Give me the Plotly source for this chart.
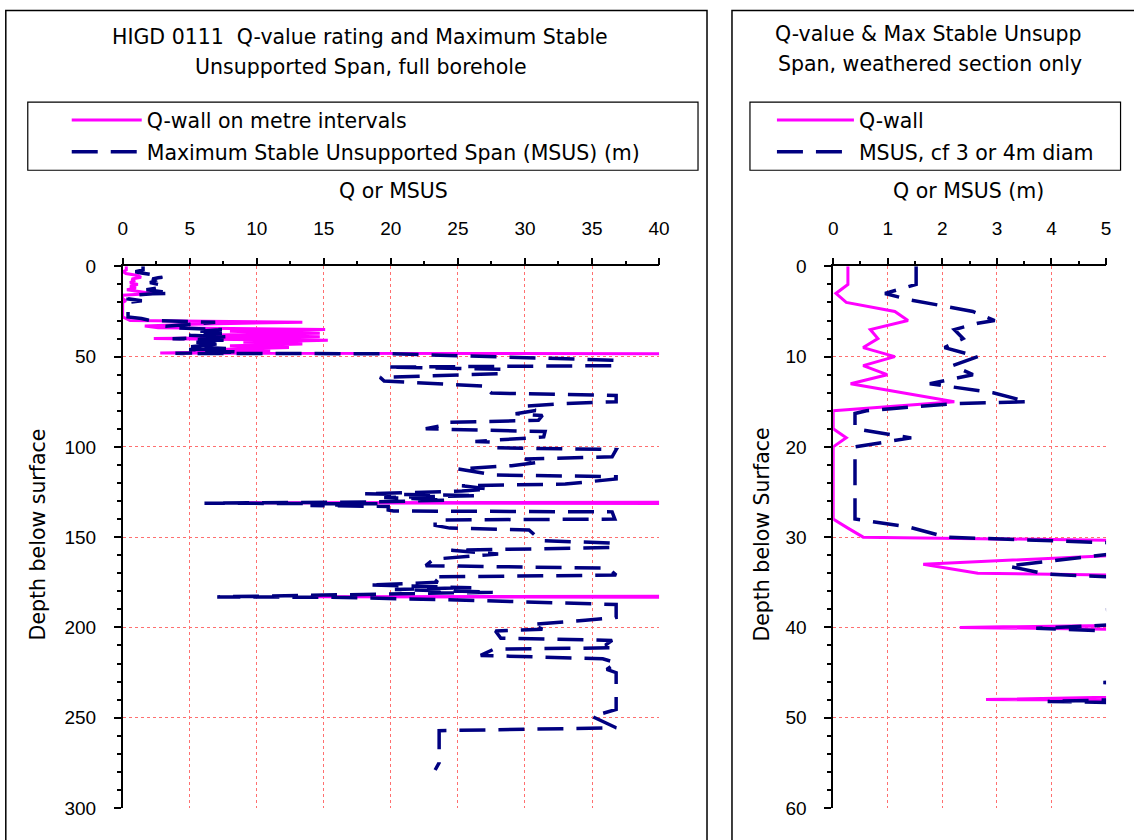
import plotly.graph_objects as go

W, H = 1134, 840

# ---------------- data ----------------
# Q-wall (metre intervals); values beyond the plotted range are off-chart (> 40)
q_depth = [0, 1, 2, 3, 4, 5, 6, 7, 8, 9, 10, 11, 12, 13, 14, 15, 16, 17, 18, 19,
           20, 21, 22, 23, 24, 25, 26, 27, 28, 29, 30, 31, 32, 33, 34, 35, 36, 37,
           38, 39, 40, 41, 42, 43, 44, 45, 46, 47, 48, 49, 130, 131, 132, 182, 183,
           184, 279]
q_wall = [0.27, 0.27, 0.27, 0.05, 0.24, 1.13, 1.37, 0.68, 0.82, 0.55, 1.13, 0.55,
          0.99, 0.32, 1.3, 2.22, 0.0, 0.0, 0.0, 0.24, 0.0, 0.0, 0.0, 0.0, 0.0, 0.0,
          0.0, 0.0, 0.0, 0.27, 0.55, 13.4, 5.2, 1.65, 2.65, 15.1, 8.0, 14.7, 7.0,
          14.7, 2.32, 15.3, 9.0, 13.4, 8.0, 12.4, 7.0, 11.0, 2.8, 100, 100, 9.0,
          100, 100, 14.0, 100, 100]

# Maximum Stable Unsupported Span (m)
msus_depth = [0, 2, 3, 3.7, 5, 6, 6.3, 7, 8, 9, 10, 11, 12, 13, 14, 15, 15.2, 16,
              16.3, 18, 19, 20, 28, 28.9, 30, 31, 31.8, 33.2, 34.1, 35, 36, 37, 38.1,
              39, 40.1, 41, 42, 43, 44.5, 45.5, 46.1, 47.5, 48.2, 48.4, 52, 55, 55.8,
              57, 59.5, 61.5, 63.5, 66.5, 68.7, 70.2, 71.5, 75, 76, 77.5, 79.8, 81.7,
              82.6, 85.3, 86.4, 88.5, 90, 91.5, 94.5, 96.2, 97, 97.5, 100.5, 101.5,
              105.5, 106.7, 108.5, 110.4, 112.2, 115.6, 116.5, 117.8, 120.6, 121.5,
              123.3, 124.5, 126, 127, 128, 129.5, 130.5, 131.2, 131.5, 132.5, 133.3,
              133.0, 135, 135.5, 136, 140, 140.5, 143.5, 145, 146, 152, 153.3, 155.7,
              157.3, 159.3, 162.2, 165.8, 167.2, 171, 172, 175, 176.5, 178, 179,
              180.5, 182, 183.1, 183.3, 184.6, 187.3, 194.5, 196, 198.3, 201, 202,
              206, 207.2, 209.8, 211.3, 212, 215.5, 217.4, 219.6, 223.3, 225.1,
              245.5, 249.3, 255.6, 257.2, 275, 279]
msus = [1.52, 1.52, 0.95, 1.40, 2.56, 2.96, 2.65, 2.22, 2.38, 2.04, 2.65, 2.19,
        2.56, 1.77, 2.93, 3.56, 2.22, 0.61, 0.40, 0.40, 1.43, 0.40, 0.40, 1.40,
        2.07, 6.9, 5.2, 3.2, 3.9, 7.4, 5.8, 7.4, 4.95, 7.7, 3.72, 7.7, 5.5, 7.0,
        5.1, 7.7, 4.95, 8.7, 3.93, 20.0, 36.8, 36.8, 19.7, 28.5, 28.0, 19.2, 19.5,
        27.3, 27.3, 27.5, 36.8, 36.8, 33.0, 30.0, 30.8, 29.3, 31.3, 31.0, 24.0,
        23.6, 22.6, 31.5, 31.4, 27.5, 26.3, 27.8, 27.8, 36.8, 36.5, 30.0, 31.1,
        29.0, 25.0, 27.7, 36.8, 36.8, 33.0, 25.3, 27.3, 25.3, 18.0, 26.5, 19.5,
        24.2, 18.8, 6.1, 19.0, 14.0, 18.8, 19.8, 19.8, 20.2, 36.5, 36.7, 23.3,
        23.3, 24.4, 30.3, 31.2, 36.7, 36.5, 24.5, 28.0, 23.2, 22.6, 36.2, 36.8,
        23.0, 23.5, 18.3, 26.0, 20.3, 27.6, 15.0, 7.05, 15.5, 23.8, 36.8, 36.8,
        34.5, 30.5, 31.3, 27.8, 28.2, 36.5, 36.0, 36.7, 27.7, 26.7, 35.8, 36.8,
        36.1, 36.8, 36.8, 35.0, 36.8, 23.6, 23.6, 23.3]

left_x_ticks = [0, 5, 10, 15, 20, 25, 30, 35, 40]
left_y_ticks = [0, 50, 100, 150, 200, 250, 300]
right_x_ticks = [0, 1, 2, 3, 4, 5]
right_y_ticks = [0, 10, 20, 30, 40, 50, 60]

# ---------------- styling ----------------
FONT = "DejaVu Sans"
TICKFONT = "Liberation Sans, Arial"
MAGENTA = "#FF00FF"
NAVY = "#000080"
GRID = "#FF7070"
DASH = "26px,13px"

# measured capture mapping (screen = scale * page + offset)
OFFX, SCX = 4.2, 0.987
OFFY, SCY = 10.9, 0.974


def px_x(s):
    return ((s - OFFX) / SCX) / W


def px_y(s):
    return 1 - ((s - OFFY) / SCY) / H


fig = go.Figure()

fig.add_trace(go.Scatter(x=q_wall, y=q_depth, xaxis="x", yaxis="y", mode="lines",
                         line=dict(color=MAGENTA, width=3), legendgroup="q1",
                         name="Q-wall on metre intervals", legend="legend"))
fig.add_trace(go.Scatter(x=msus, y=msus_depth, xaxis="x", yaxis="y", mode="lines",
                         line=dict(color=NAVY, width=3.5, dash=DASH), legendgroup="m1",
                         name="Maximum Stable Unsupported Span (MSUS) (m)", legend="legend"))
fig.add_trace(go.Scatter(x=q_wall, y=q_depth, xaxis="x2", yaxis="y2", mode="lines",
                         line=dict(color=MAGENTA, width=3), legendgroup="q2",
                         name="Q-wall", legend="legend2"))
fig.add_trace(go.Scatter(x=msus, y=msus_depth, xaxis="x2", yaxis="y2", mode="lines",
                         line=dict(color=NAVY, width=3.5, dash=DASH), legendgroup="m2",
                         name="MSUS, cf 3 or 4m diam", legend="legend2"))


def xax(domain, rng, ticks, minor, anchor):
    return dict(domain=domain, range=rng, side="top", anchor=anchor,
                tickmode="array", tickvals=ticks, ticktext=[str(t) for t in ticks],
                ticks="outside", ticklen=7, tickwidth=1.5, tickcolor="black",
                showline=True, linecolor="black", linewidth=1.5,
                showgrid=True, gridcolor=GRID, griddash="dot", gridwidth=1,
                zeroline=False, ticklabelstandoff=15,
                tickfont=dict(family=TICKFONT, size=19, color="black"),
                minor=dict(dtick=minor, tick0=0, ticks="outside", ticklen=4,
                           tickwidth=1.5, tickcolor="black", showgrid=False),
                fixedrange=True)


def yax(domain, rng, ticks, minor, anchor):
    return dict(domain=domain, range=rng, anchor=anchor,
                tickmode="array", tickvals=ticks, ticktext=[str(t) for t in ticks],
                ticks="outside", ticklen=7, tickwidth=1.5, tickcolor="black",
                showline=True, linecolor="black", linewidth=1.5,
                showgrid=True, gridcolor=GRID, griddash="dot", gridwidth=1,
                zeroline=False, ticklabelstandoff=14,
                tickfont=dict(family=TICKFONT, size=19, color="black"),
                minor=dict(dtick=minor, tick0=0, ticks="outside", ticklen=4,
                           tickwidth=1.5, tickcolor="black", showgrid=False),
                fixedrange=True)


ydom = [px_y(808), px_y(267)]

shapes = [
    dict(type="rect", xref="paper", yref="paper", x0=px_x(5), x1=px_x(707),
         y0=0.9995, y1=-0.2, line=dict(color="black", width=1.5)),
    dict(type="rect", xref="paper", yref="paper", x0=px_x(732), x1=1.2,
         y0=0.9995, y1=-0.2, line=dict(color="black", width=1.5)),
    dict(type="rect", xref="paper", yref="paper", x0=px_x(27), x1=px_x(698),
         y0=px_y(103), y1=px_y(171), line=dict(color="black", width=1.2)),
    dict(type="rect", xref="paper", yref="paper", x0=px_x(750), x1=px_x(1121),
         y0=px_y(103), y1=px_y(171), line=dict(color="black", width=1.2)),
]


def ann(text, x, y, angle=0, size=20.5):
    return dict(text=text, x=px_x(x), y=px_y(y), xref="paper", yref="paper",
                showarrow=False, xanchor="center", yanchor="middle", textangle=angle,
                font=dict(family=FONT, size=size, color="black"))


annotations = [
    ann("HIGD 0111  Q-value rating and Maximum Stable", 360, 38),
    ann("Unsupported Span, full borehole", 361, 68),
    ann("Q or MSUS", 393, 192),
    ann("Depth below surface", 37, 535, angle=-90),
    ann("Q-value &amp; Max Stable Unsupp", 929, 35),
    ann("Span, weathered section only", 930, 65),
    ann("Q or MSUS (m)", 969, 192),
    ann("Depth below Surface", 762, 535, angle=-90),
]

leg_common = dict(yanchor="top", xanchor="left", bgcolor="rgba(0,0,0,0)",
                  borderwidth=0, traceorder="grouped", tracegroupgap=2,
                  font=dict(family=FONT, size=20.5, color="black"))

fig.update_layout(
    width=W, height=H,
    margin=dict(l=0, r=0, t=0, b=0),
    paper_bgcolor="white", plot_bgcolor="white",
    xaxis=xax([px_x(122), px_x(659)], [0, 40], left_x_ticks, 2.5, "y"),
    yaxis=yax(ydom, [300, 0], left_y_ticks, 10, "x"),
    xaxis2=xax([px_x(833.3), px_x(1106.5)], [0, 5], right_x_ticks, 0.5, "y2"),
    yaxis2=yax(ydom, [60, 0], right_y_ticks, 2, "x2"),
    legend=dict(x=px_x(66), y=px_y(101), itemwidth=70, **leg_common),
    legend2=dict(x=px_x(772), y=px_y(101), itemwidth=77, **leg_common),
    shapes=shapes,
    annotations=annotations,
    showlegend=True,
)

fig.write_html(
    "out.html",
    config={"displayModeBar": False},
    post_script=(
        "var d=document.getElementById('{plot_id}');"
        "d.style.position='fixed';d.style.left='0px';d.style.top='0px';"
        "document.documentElement.style.overflow='hidden';"
        "document.body.style.margin='0';document.body.style.overflow='hidden';"
    ),
)
